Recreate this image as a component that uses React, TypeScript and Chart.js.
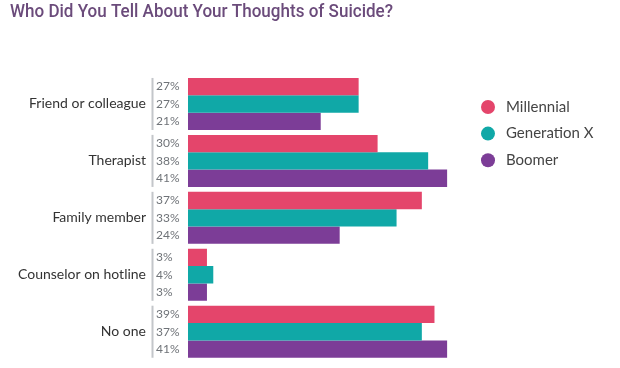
import React, { useEffect, useRef } from "react";
import { Chart, registerables } from "chart.js";

Chart.register(...registerables);

const categories = ["Friend or colleague", "Therapist", "Family member", "Counselor on hotline", "No one"];
const seriesNames = ["Millennial", "Generation X", "Boomer"];
const millennial = [27, 30, 37, 3, 39];
const generationX = [27, 38, 33, 4, 37];
const boomer = [21, 41, 24, 3, 41];
const seriesColors = ["#e4456b", "#10a8a7", "#7c3d97"];
const titleText = "Who Did You Tell About Your Thoughts of Suicide?";

const overlayPlugin = {
  id: "overlay",
  afterDatasetsDraw(chart: any) {
    const ctx = chart.ctx as CanvasRenderingContext2D;
    const yScale = chart.scales.y;
    ctx.save();
    // title
    ctx.font = "500 18px Roboto";
    ctx.fillStyle = "#6b4b7b";
    ctx.textBaseline = "alphabetic";
    ctx.textAlign = "left";
    const w = ctx.measureText(titleText).width;
    const target = 383;
    ctx.save();
    ctx.translate(10, 17);
    ctx.scale(target / w, 1);
    ctx.fillText(titleText, 0, 0);
    ctx.restore();

    // category labels, separators, values
    const labels = chart.data.labels as string[];
    labels.forEach((lab: string, i: number) => {
      const cy = yScale.getPixelForValue(i);
      ctx.font = "14px Lato";
      ctx.fillStyle = "#333333";
      ctx.textAlign = "right";
      ctx.textBaseline = "middle";
      ctx.fillText(lab, 146, cy);
      // separator
      let top = Infinity, bottom = -Infinity;
      chart.data.datasets.forEach((ds: any, di: number) => {
        const el = chart.getDatasetMeta(di).data[i] as any;
        top = Math.min(top, el.y - el.height / 2);
        bottom = Math.max(bottom, el.y + el.height / 2);
        ctx.font = "12px Lato";
        ctx.fillStyle = "#6f7378";
        ctx.textAlign = "left";
        ctx.fillText(ds.data[i] + "%", 156, el.y);
      });
      ctx.fillStyle = "#c3c6ca";
      ctx.fillRect(151.5, top, 2, bottom - top);
    });

    // legend
    chart.data.datasets.forEach((ds: any, di: number) => {
      const cy = 107 + di * 26.6;
      ctx.beginPath();
      ctx.arc(488, cy, 7, 0, Math.PI * 2);
      ctx.fillStyle = ds.backgroundColor;
      ctx.fill();
      ctx.font = "15px Lato";
      ctx.fillStyle = "#444444";
      ctx.textAlign = "left";
      ctx.textBaseline = "middle";
      ctx.fillText(ds.label, 506, cy);
    });
    ctx.restore();
  },
};

export default function App() {
  const ref = useRef<HTMLCanvasElement>(null);
  useEffect(() => {
    document.body.style.margin = "0";
    const seriesValues = [millennial, generationX, boomer];
    const chart = new Chart(ref.current!, {
      type: "bar",
      data: {
        labels: categories,
        datasets: seriesNames.map((name, i) => ({
          label: name,
          data: seriesValues[i],
          backgroundColor: seriesColors[i],
          borderWidth: 0,
          barPercentage: 1,
          categoryPercentage: 0.914,
        })),
      },
      options: {
        indexAxis: "y",
        animation: false,
        responsive: true,
        maintainAspectRatio: false,
        layout: { padding: { left: 188, right: 147.6, top: 75.5, bottom: 7.8 } },
        scales: {
          x: { display: false, min: 0, max: 45 },
          y: { display: false },
        },
        plugins: {
          legend: { display: false },
          tooltip: { enabled: false },
          title: { display: false },
        },
      },
      plugins: [overlayPlugin],
    });
    return () => chart.destroy();
  }, []);
  return (
    <div style={{ width: 620, height: 368, position: "relative", background: "#fff" }}>
      <canvas ref={ref} />
    </div>
  );
}
